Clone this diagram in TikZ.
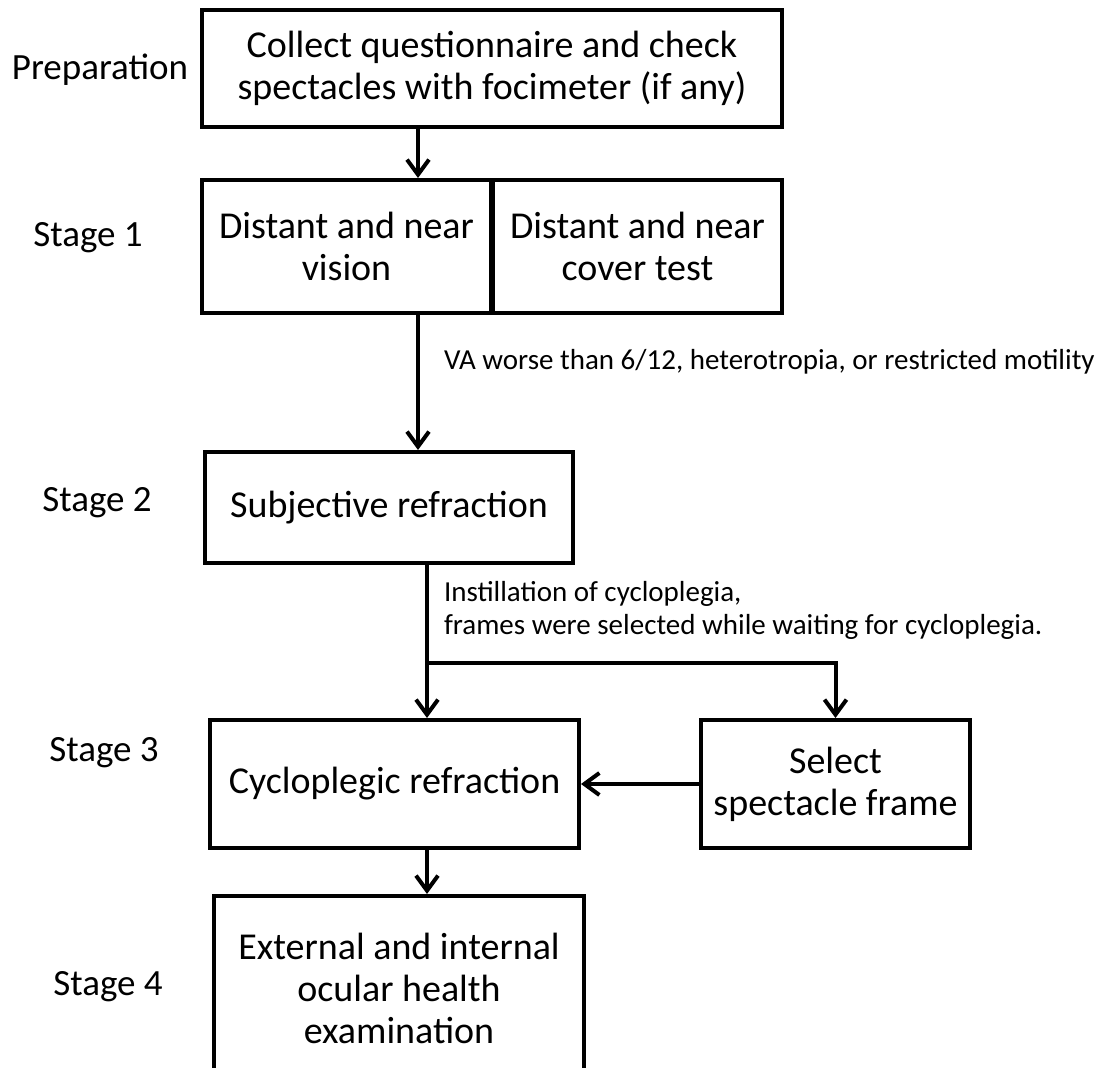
\documentclass[tikz,border=0pt]{standalone}
\usepackage{fontspec}
\setmainfont{Carlito}
\usetikzlibrary{arrows.meta, positioning}
\tikzset{
  every picture/.style={x=0.5pt, y=-0.5pt, line width=2pt},
  box/.style={draw=black, align=center, inner sep=0pt, font=\fontsize{19}{21}\selectfont},
  arrow/.style={-{Straight Barb[length=7.5pt, width=11pt]}, draw=black, line width=2pt},
  stagelabel/.style={anchor=base, inner sep=0pt, font=\fontsize{18.5}{21}\selectfont},
  note/.style={anchor=west, align=left, inner sep=0pt, font=\fontsize{14.5}{16.5}\selectfont},
}

\begin{document}
\begin{tikzpicture}
  \useasboundingbox (0,0) rectangle (1100,1068);
  % stage boxes
  \node[box, minimum width=290pt, minimum height=58.5pt] (prep) at (492,68.5) {Collect questionnaire and check\\spectacles with focimeter (if any)};
  \node[box, minimum width=144.5pt, minimum height=66.5pt] (vision) at (346.5,246.5) {Distant and near\\vision};
  \node[box, minimum width=144.5pt, minimum height=66.5pt] (cover) at (637.5,246.5) {Distant and near\\cover test};
  \node[box, minimum width=184pt, minimum height=55.5pt] (subj) at (389,507.5) {Subjective refraction};
  \node[box, minimum width=184.5pt, minimum height=64pt] (cyclo) at (394.5,784) {Cycloplegic refraction};
  \node[box, minimum width=134.5pt, minimum height=64pt] (frame) at (835.5,784) {Select\\spectacle frame};
  \node[box, minimum width=185pt, minimum height=92pt] (exam) at (399,988) {External and internal\\ocular health\\examination};
  % stage labels
  \node[stagelabel] (lprep) at (100,80) {Preparation};
  \node[stagelabel] (lone) at (88,247) {Stage 1};
  \node[stagelabel] (ltwo) at (97,512) {Stage 2};
  \node[stagelabel] (lthree) at (104,762) {Stage 3};
  \node[stagelabel] (lfour) at (108,996) {Stage 4};
  % connectors
  \coordinate (spineA) at (418,0);
  \coordinate (spineB) at (427,0);
  \coordinate (fork) at (427,663);
  \draw[arrow] (prep.south -| spineA) -- (vision.north -| spineA);
  \draw[arrow] (vision.south -| spineA) -- (subj.north -| spineA);
  \draw (subj.south -| spineB) -- (fork);
  \draw[arrow] (fork) -- (cyclo.north -| fork);
  \draw[arrow] (fork) -| (frame.north);
  \draw[arrow] (frame.west) -- (cyclo.east);
  \draw[arrow] (cyclo.south -| spineB) -- (exam.north -| spineB);
  % notes
  \node[note, anchor=base west] (vanote) at (442,370) {VA worse than 6/12, heterotropia, or restricted motility};
  \node[note] (cyclonote) at (442,610) {Instillation of cycloplegia,\\frames were selected while waiting for cycloplegia.};
\end{tikzpicture}
\end{document}
